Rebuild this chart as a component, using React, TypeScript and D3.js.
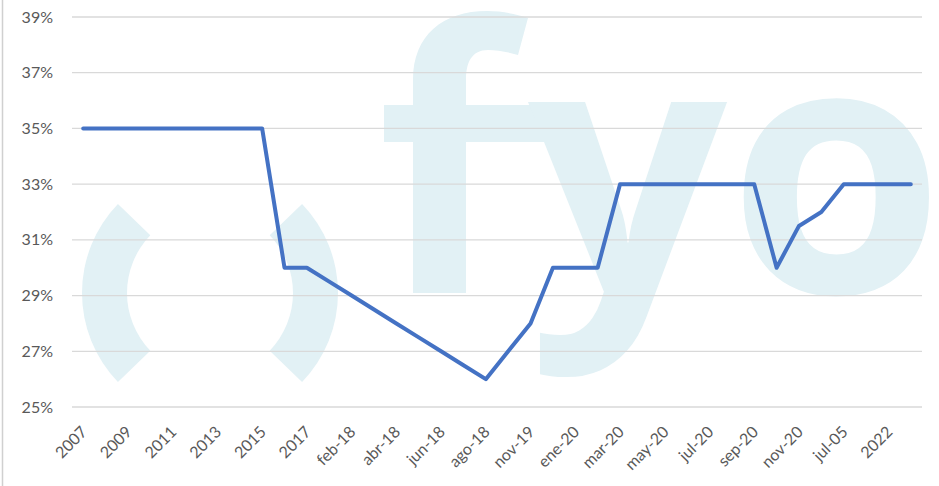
import * as d3 from "d3";

const categories = [
  "2007", "2008", "2009", "2010", "2011", "2012", "2013", "2014", "2015", "2016",
  "2017", "ene-18", "feb-18", "mar-18", "abr-18", "may-18", "jun-18", "jul-18", "ago-18", "sep-18",
  "nov-19", "dic-19", "ene-20", "feb-20", "mar-20", "abr-20", "may-20", "jun-20", "jul-20", "ago-20",
  "sep-20", "oct-20", "nov-20", "dic-20", "jul-05", "2021", "2022", "2023",
];

// percent values per category
const rates = [
  35, 35, 35, 35, 35, 35, 35, 35, 35, 30,
  30, 29.5, 29, 28.5, 28, 27.5, 27, 26.5, 26, 27,
  28, 30, 30, 30, 33, 33, 33, 33, 33, 33,
  33, 30, 31.5, 32, 33, 33, 33, 33,
];

const yTicks = [25, 27, 29, 31, 33, 35, 37, 39];

const W = 939;
const H = 486;
const font = "Lato, 'Liberation Sans', sans-serif";
const wm = "#e2f1f5";

// the "f" of the background logo
const fPath =
  "M413,293 L413,80 C413,35 443,11 487,11 C502,11 516,14 528,18 L518,55 " +
  "C508,52 497,50 488,50 C472,50 466,62 466,80 L466,293 Z M384,105 L572,105 L572,142 L384,142 Z";

export default function App() {
  const x = d3.scaleBand().domain(categories).range([72, 922]);
  const y = d3.scaleLinear().domain([25, 39]).range([407, 17]);
  const cx = (c) => (x(c) ?? 0) + x.bandwidth() / 2;

  const line = d3
    .line<number>()
    .x((_, i) => cx(categories[i]))
    .y((d) => y(d));

  // "( )" part of the background logo
  const ring = d3.arc().innerRadius(83).outerRadius(128);
  const leftArc = ring({ startAngle: (226 * Math.PI) / 180, endAngle: (314 * Math.PI) / 180 } as any);
  const rightArc = ring({ startAngle: (46 * Math.PI) / 180, endAngle: (134 * Math.PI) / 180 } as any);

  return (
    <svg width={W} height={H} style={{ position: "absolute", left: 0, top: 0, background: "#fff" }}>
      <rect x={0} y={0} width={W} height={H} fill="#fff" />
      <line x1={2.5} x2={2.5} y1={0} y2={H} stroke="#d0d0d0" strokeWidth={1.5} />

      {/* watermark */}
      <g fill={wm}>
        <path d={leftArc ?? ""} transform="translate(210,293)" />
        <path d={rightArc ?? ""} transform="translate(210,293)" />
        <path d={fPath} />
        <g fontFamily="'Open Sans', sans-serif" fontWeight={700} fontSize={350}>
          <text x={528} y={293}>y</text>
          <text x={728} y={293}>o</text>
        </g>
      </g>

      {/* grid */}
      {yTicks.map((t) => (
        <line key={t} x1={72} x2={922} y1={y(t)} y2={y(t)} stroke="#d9d9d9" strokeWidth={1.3} />
      ))}

      {/* y labels */}
      {yTicks.map((t) => (
        <text
          key={t}
          x={53}
          y={y(t)}
          dy="0.35em"
          textAnchor="end"
          fontFamily={font}
          fontSize={16}
          fill="#595959"
        >
          {t}%
        </text>
      ))}

      {/* x labels */}
      {categories.map((c, i) =>
        i % 2 === 0 ? (
          <text
            key={c}
            transform={`translate(${cx(c) + 5},${433}) rotate(-45)`}
            textAnchor="end"
            fontFamily={font}
            fontSize={16}
            fill="#595959"
          >
            {c}
          </text>
        ) : null
      )}

      <path
        d={line(rates) ?? ""}
        fill="none"
        stroke="#4472c4"
        strokeWidth={4}
        strokeLinejoin="round"
        strokeLinecap="round"
      />
    </svg>
  );
}
